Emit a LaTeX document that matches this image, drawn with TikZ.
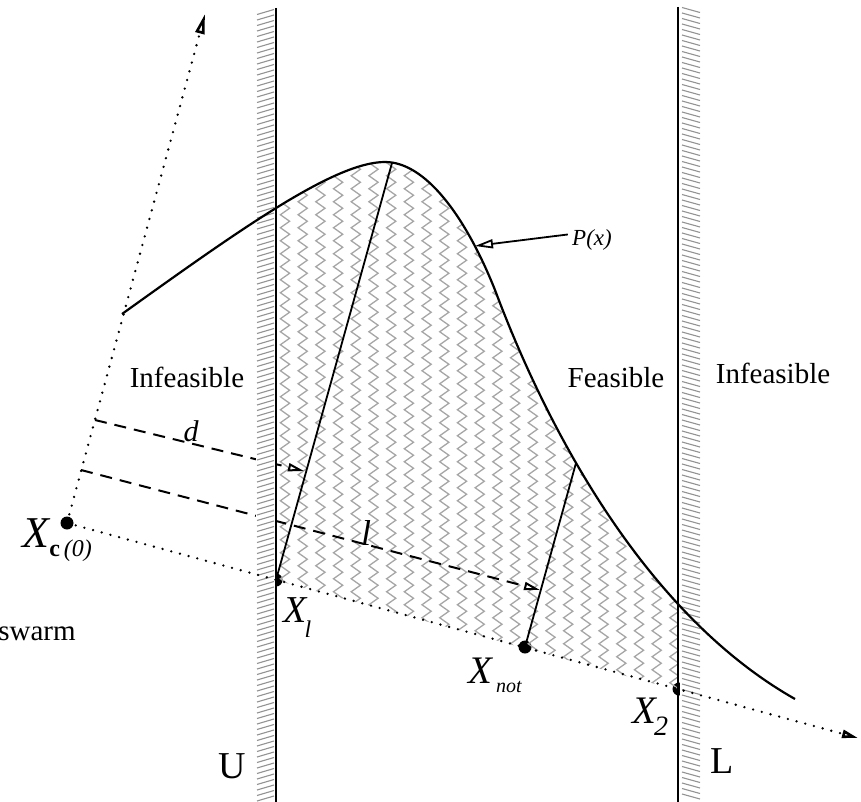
\documentclass[tikz,border=0pt]{standalone}
\usepackage{fontspec}
\setmainfont{Liberation Serif}
\usetikzlibrary{arrows.meta,decorations.pathmorphing}
\begin{document}
\begin{tikzpicture}[x=0.5pt,y=-0.5pt,
  zig/.style={gray!70, line width=0.65pt, decorate, decoration={zigzag, segment length=6.5pt, amplitude=2.3pt}},
  hatch/.style={gray!85, line width=0.55pt},
  wall/.style={line width=1.1pt},
  curveline/.style={line width=1.1pt},
  solidline/.style={line width=0.9pt},
  dotline/.style={line width=1.3pt, line cap=round, dash pattern=on 0pt off 4.5pt},
  dashline/.style={line width=1pt, dash pattern=on 6pt off 4pt},
  dot/.style={circle, fill=black, inner sep=0pt, minimum size=6.5pt},
  txt/.style={font=\fontsize{14.5}{17}\selectfont, inner sep=0pt, anchor=base},
  big/.style={font=\fontsize{19}{20}\selectfont, inner sep=0pt, anchor=base},
  xlab/.style={inner sep=0pt, anchor=base west},
  openhead/.style={-{Triangle[open,length=#1,width=4pt]}}
]
\useasboundingbox (0,0) rectangle (861,802);

% key points
\node[dot] (Xc) at (67,523) {};
\node[dot] (X1) at (276,580) {};
\node[dot] (Xn) at (525,647) {};
\node[dot] (X2) at (679,689) {};
\coordinate (tipR) at (858,738);
\coordinate (tipU) at (205,14);
\coordinate (pk) at (392,163);
\coordinate (cp) at (576,463);
\coordinate (d0) at (95,420);
\coordinate (d1) at (304,471);
\coordinate (l0) at (81,470);
\coordinate (l1) at (540,590);
\coordinate (pxc) at (475,246);

% feasible zig-zag shading
\begin{scope}
  \clip (276,0) rectangle (678,802);
  \clip (122,314) .. controls (242,228) and (335,162) .. (385,162)
        .. controls (425,162) and (465,215) .. (495,290)
        .. controls (525,370) and (620,600) .. (795,699)
        -- (860,740) -- (67,523) -- cycle;
  \foreach \x in {285,302.7,...,690} \draw[zig] (\x,140) -- (\x,730);
\end{scope}

% dashed distances
\draw[dashline,openhead=8pt] (d0) -- (d1);
\draw[dashline,openhead=8pt] (l0) -- (l1);

% walls with hatching
\fill[white] (256,8) rectangle (275,802);
\foreach \y in {12,17.5,...,800} \draw[hatch] (257,\y+2.5) -- (274,\y-2.5);
\draw[wall] (276,8) -- (276,802);
\fill[white] (680,8) rectangle (701,802);
\foreach \y in {10,15.5,...,800} \draw[hatch] (682,\y-2.5) -- (700,\y+2.5);
\draw[wall] (678,7) -- (678,802);

% curve P(x)
\draw[curveline] (122,314) .. controls (242,228) and (335,162) .. (385,162)
        .. controls (425,162) and (465,215) .. (495,290)
        .. controls (525,370) and (620,600) .. (795,699);

% dotted directions
\draw[dotline,-{Triangle[open,length=10pt,width=4.5pt]}] (Xc.center) -- (tipU);
\draw[dotline,-{Triangle[open,length=8pt,width=4pt]}] (Xc.center) -- (tipR);

% solid lines
\draw[solidline] (X1.center) -- (pk);
\draw[solidline] (Xn.center) -- (cp);

% labels
\node[txt] (inf1) at (187,387) {Infeasible};
\node[txt] (fea) at (616,387) {Feasible};
\node[txt] (inf2) at (773,383) {Infeasible};
\node[txt,anchor=base east] (sw) at (76,640) {swarm};
\node[big] (U) at (232,778) {U};
\node[big] (L) at (722,773) {L};
\node[inner sep=0pt,anchor=base,font=\fontsize{15}{16}\selectfont\itshape] (dl) at (191,441) {d};
\node[inner sep=0pt,anchor=base,font=\fontsize{18}{20}\selectfont\itshape] (ll) at (366,545) {l};
\node[inner sep=0pt,anchor=base,font=\fontsize{11.5}{13}\selectfont\itshape] (px) at (592,245) {P(x)};
\draw[line width=0.9pt,-{Triangle[open,length=9pt,width=4.5pt]}] (px.west) ++(-4,-5) -- (pxc);

\node[xlab] (lXc) at (22,547) {{\fontsize{22}{22}\selectfont\itshape X}\raisebox{-4.5pt}{\fontsize{12}{12}\selectfont\textbf{c}\,\textit{(0)}}};
\node[xlab] (lX1) at (283,622) {{\fontsize{19}{19}\selectfont\itshape X}\kern-1pt\raisebox{-7.5pt}{\fontsize{12}{12}\selectfont\itshape l}};
\node[xlab] (lXn) at (468,683) {{\fontsize{19.5}{20}\selectfont\itshape X}\kern2pt\raisebox{-4.5pt}{\fontsize{10}{10}\selectfont\itshape not}};
\node[xlab] (lX2) at (632,723) {{\fontsize{19.5}{20}\selectfont\itshape X}\kern-1pt\raisebox{-6pt}{\fontsize{14}{14}\selectfont\itshape 2}};
\end{tikzpicture}
\end{document}
